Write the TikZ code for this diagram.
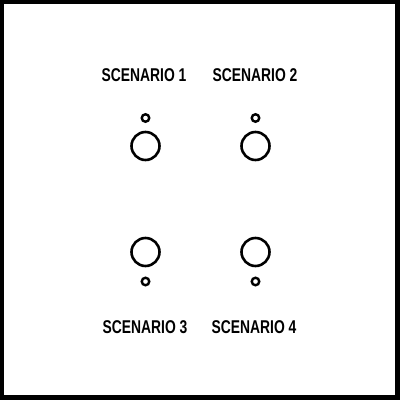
\documentclass[tikz,border=0pt]{standalone}
\usepackage{fontspec}
\setmainfont{Liberation Sans}
\begin{document}
\begin{tikzpicture}[x=1pt,y=-1pt,
  lbl/.style={font=\bfseries\fontsize{18.5}{18.5}\selectfont, inner sep=0pt, xscale=0.75},
  bigc/.style={circle, draw=black, line width=2.6pt, minimum size=28pt, inner sep=0pt},
  smallc/.style={circle, draw=black, line width=2.4pt, minimum size=7.5pt, inner sep=0pt}]
\useasboundingbox (0,0) rectangle (400,400);
\fill[black] (0,0) rectangle (400,400);
\fill[white] (4,4) rectangle (395,395);
\node[lbl] (t1) at (144,75) {SCENARIO 1};
\node[lbl] (t2) at (255,75) {SCENARIO 2};
\node[lbl] (t3) at (145,327) {SCENARIO 3};
\node[lbl] (t4) at (254,327) {SCENARIO 4};
\node[smallc] (s1) at (145.5,118) {};
\node[bigc] (b1) at (145.5,146) {};
\node[smallc] (s2) at (255.5,118) {};
\node[bigc] (b2) at (255.5,146) {};
\node[bigc] (b3) at (145.5,252) {};
\node[smallc] (s3) at (145.5,281.5) {};
\node[bigc] (b4) at (255.5,252) {};
\node[smallc] (s4) at (255.5,281.5) {};
\end{tikzpicture}
\end{document}
